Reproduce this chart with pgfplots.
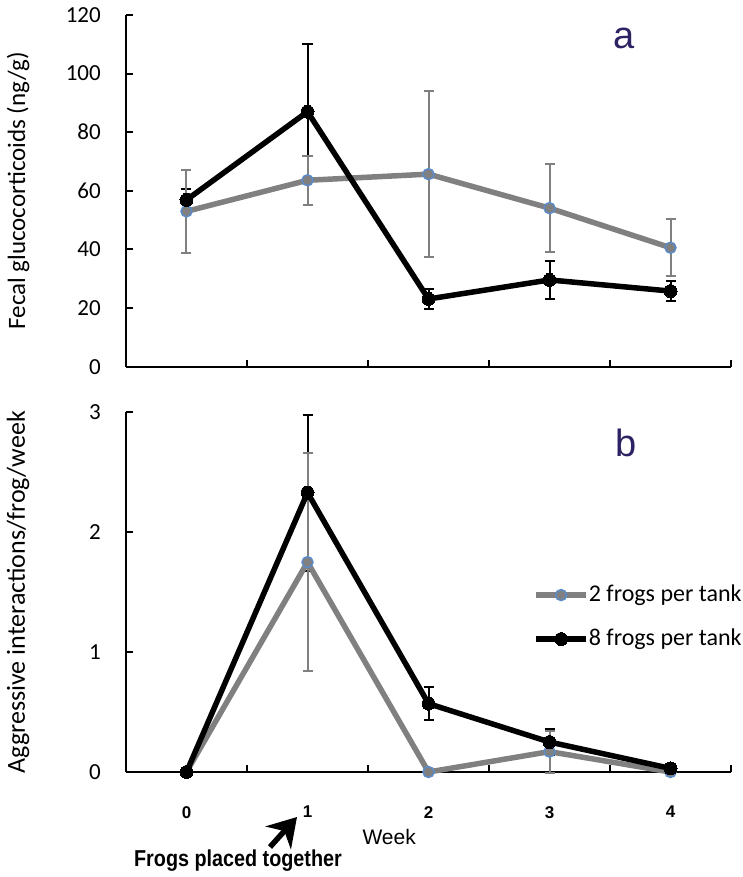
\documentclass[border=0pt]{standalone}
\usepackage{pgfplots}
\usepackage{pgfplotstable}
\pgfplotsset{compat=1.18}
\usepackage{fontspec}
\setmainfont{Carlito}
\newfontfamily\arialf{Liberation Sans}
\newfontfamily\arialnarrow[FakeStretch=0.86]{Liberation Sans}
\usetikzlibrary{arrows.meta}
\definecolor{sgrey}{HTML}{808080}
\definecolor{sblue}{HTML}{5B8BC9}
\definecolor{navy}{RGB}{45,35,100}

% week, mean, error
\pgfplotstableread{
x y e
0 53.0 14.1
1 63.6 8.3
2 65.7 28.2
3 54.1 15.1
4 40.6 9.7
}\topgrey
\pgfplotstableread{
x y e
0 56.9 3.8
1 87.0 23.0
2 23.1 3.4
3 29.6 6.6
4 25.8 3.5
}\topblack
\pgfplotstableread{
x y e
0 0 0
1 1.75 0.91
2 0 0
3 0.17 0.175
4 0 0
}\botgrey
\pgfplotstableread{
x y e
0 0 0
1 2.33 0.65
2 0.57 0.14
3 0.25 0.11
4 0.03 0
}\botblack

\pgfplotsset{
  frog/.style={scale only axis, width=605pt, xmin=-0.5, xmax=4.5,
    axis lines*=left, axis line style={line width=2.2pt},
    tick style={line width=2pt, black}, tick align=inside, major tick length=7pt,
    xtick={0.5,1.5,2.5,3.5,4.5}, xticklabels={}, clip=false,
    ticklabel style={font=\fontsize{23}{26}\selectfont},
    /pgf/number format/assume math mode=true,
    yticklabel style={inner sep=0pt, xshift=-25pt},
    ylabel style={at={(axis description cs:-0.1785,0.5)}, anchor=center}},
  greyl/.style={sgrey, line width=5.5pt, mark=*, mark size=5.5pt,
    mark options={fill=sgrey, draw=sblue, line width=1.5pt},
    error bars/.cd, y dir=both, y explicit,
    error bar style={line width=2pt, draw=sgrey},
    error mark options={rotate=90, mark size=5pt, line width=2pt, draw=sgrey}},
  blackl/.style={black, line width=5.5pt, mark=*, mark size=6.5pt,
    mark options={fill=black, draw=black, line width=0pt}},
  blackerr/.style={draw=none, mark=none, forget plot,
    error bars/.cd, y dir=both, y explicit,
    error bar style={line width=2pt, draw=black},
    error mark options={rotate=90, mark size=5pt, line width=2pt, draw=black}},
}

\begin{document}
\begin{tikzpicture}
\useasboundingbox (-126pt,-105pt) rectangle (617pt,772pt);

\begin{axis}[frog, at={(0pt,405.3pt)}, height=351.7pt,
  ymin=0, ymax=120, ytick={0,20,...,120},
  ylabel={Fecal glucocorticoids (ng/g)},
  ylabel style={font=\fontsize{25}{28}\selectfont}]
\addplot[blackerr] table[x=x, y=y, y error=e] {\topblack};
\addplot[greyl] table[x=x, y=y, y error=e] {\topgrey};
\addplot[blackl] table[x=x, y=y] {\topblack};
\node[font=\arialf\fontsize{38}{40}\selectfont, text=navy] at (axis description cs:0.824,0.933) {a};
\end{axis}

\begin{axis}[frog, height=359.7pt,
  ymin=0, ymax=3, ytick={0,1,2,3},
  ylabel={Aggressive interactions/frog/week},
  ylabel style={font=\fontsize{26}{30}\selectfont},
  extra x ticks={0,1,2,3,4}, extra x tick labels={0,1,2,3,4},
  extra x tick style={major tick length=0pt,
    tick label style={font=\arialf\bfseries\fontsize{17}{19}\selectfont, inner sep=0pt, yshift=-34pt}},
  xlabel={Week},
  xlabel style={at={(axis description cs:0.435,-0.181)}, anchor=center,
    font=\arialf\fontsize{21}{24}\selectfont},
  legend style={draw=none, fill=none, at={(axis description cs:0.673,0.523)},
    anchor=north west, inner sep=0pt, row sep=22pt,
    nodes={inner sep=0pt, text height=17pt, text depth=5pt, font=\fontsize{24}{28}\selectfont},
    /tikz/every even column/.append style={column sep=0pt}},
  legend cell align=left,
  legend image code/.code={\draw[mark repeat=2, mark phase=2, #1] plot coordinates {(0pt,0pt) (25pt,0pt) (50pt,0pt)};}]
\addplot[blackerr] table[x=x, y=y, y error=e] {\botblack};
\addplot[greyl] table[x=x, y=y, y error=e] {\botgrey};
\addplot[blackl] table[x=x, y=y] {\botblack};
\legend{2 frogs per tank, 8 frogs per tank}
\node[font=\arialf\fontsize{38}{40}\selectfont, text=navy] at (axis description cs:0.827,0.915) {b};
\end{axis}

\draw[line width=5.5pt, -{Stealth[length=28pt, width=34pt]}] (144pt,-75pt) -- (171pt,-45pt);
\node[font=\arialnarrow\bfseries\fontsize{23}{26}\selectfont] at (112pt,-89pt) {Frogs placed together};
\end{tikzpicture}
\end{document}
